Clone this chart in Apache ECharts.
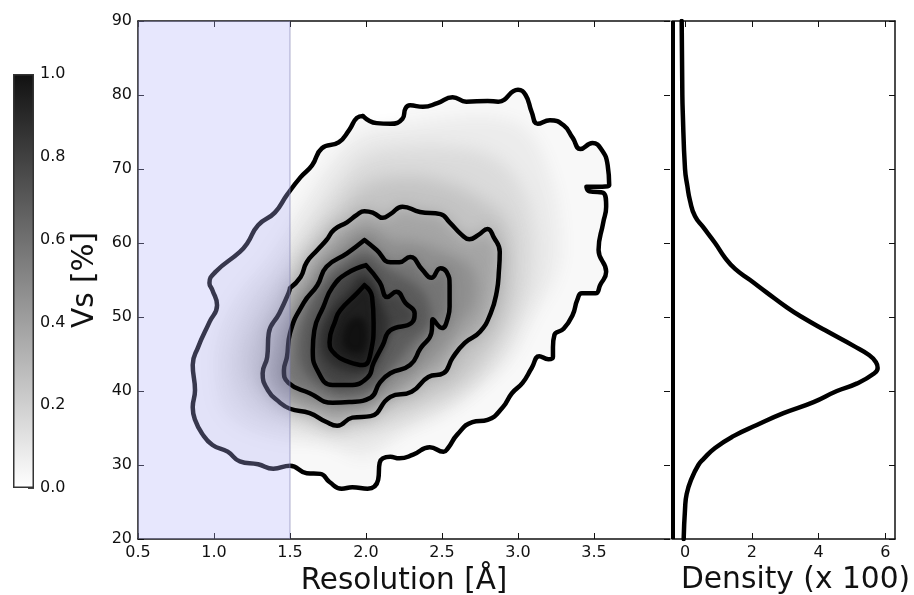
<!DOCTYPE html>
<html><head><meta charset="utf-8">
<style>html,body{margin:0;padding:0;background:#fff}#c{width:914px;height:595px}</style>
<script src="https://cdn.jsdelivr.net/npm/echarts@6/dist/echarts.min.js"></script></head>
<body><div id="c"></div>
<script>
// Resolution [Å], Vs [%] rings
const contour1 = [[1.98,77.16],[2.07,76.2],[2.16,76.1],[2.24,76.8],[2.26,78.2],[2.29,78.6],[2.375,78.4],[2.47,78.9],[2.57,79.7],[2.66,79.1],[2.80,79.2],[2.87,79.1],[3.0,80.7],[3.05,80.0],[3.09,77.7],[3.13,76.1],[3.21,76.6],[3.30,75.9],[3.36,74.2],[3.41,72.7],[3.49,73.5],[3.55,72.6],[3.59,70.5],[3.60,67.8],[3.52,67.6],[3.45,67.6],[3.47,67.0],[3.56,66.8],[3.58,64.9],[3.56,62.7],[3.53,59.05],[3.58,56.1],[3.54,54.3],[3.51,53.2],[3.42,53.2],[3.39,52.3],[3.36,50.3],[3.30,48.4],[3.24,47.6],[3.23,45.9],[3.23,44.6],[3.20,44.3],[3.14,44.7],[3.09,43.1],[3.03,41.1],[2.96,39.7],[2.90,37.8],[2.80,36.1],[2.70,35.8],[2.60,34.1],[2.54,32.3],[2.51,31.8],[2.42,32.4],[2.31,31.4],[2.22,30.9],[2.16,31.1],[2.09,30.3],[2.08,28.0],[2.01,26.8],[1.91,27.0],[1.84,26.8],[1.76,27.7],[1.70,28.8],[1.61,28.9],[1.5,29.9],[1.39,29.5],[1.29,30.1],[1.17,30.5],[1.09,31.8],[0.99,32.7],[0.92,34.3],[0.875,36.1],[0.86,37.8],[0.875,40.1],[0.86,43.5],[0.895,45.9],[0.97,49.3],[1.02,51.6],[0.99,53.6],[0.97,54.6],[1.01,56.1],[1.17,58.8],[1.22,60.0],[1.29,62.4],[1.40,64.1],[1.48,66.5],[1.57,68.9],[1.645,70.5],[1.71,72.8],[1.82,73.6],[1.89,75.3],[1.94,76.9]];
const contour2 = [[1.5,53.9],[1.57,55.4],[1.61,57.4],[1.68,59.05],[1.74,60.4],[1.79,61.8],[1.875,62.8],[1.94,63.8],[1.99,64.3],[2.05,64.05],[2.11,63.4],[2.16,63.9],[2.24,64.9],[2.355,64.2],[2.49,63.9],[2.55,62.8],[2.63,61.1],[2.68,60.5],[2.74,61.1],[2.80,61.9],[2.84,60.8],[2.88,58.8],[2.875,56.4],[2.86,53.4],[2.82,50.5],[2.75,48.0],[2.65,46.5],[2.57,44.5],[2.51,42.4],[2.41,41.9],[2.30,39.9],[2.16,39.2],[2.03,36.6],[1.91,36.4],[1.81,35.3],[1.74,35.8],[1.63,37.0],[1.5,37.6],[1.43,38.5],[1.355,40.1],[1.32,42.4],[1.35,44.6],[1.36,47.8],[1.43,50.5],[1.49,53.2]];
const contour3 = [[1.99,60.4],[2.07,59.05],[2.16,57.4],[2.22,57.4],[2.29,58.1],[2.37,56.4],[2.43,55.3],[2.49,56.6],[2.53,56.1],[2.55,54.3],[2.55,51.4],[2.54,50.0],[2.50,48.5],[2.44,49.7],[2.43,47.8],[2.36,45.8],[2.29,43.5],[2.16,42.4],[2.09,41.1],[2.03,39.1],[1.89,38.5],[1.78,38.4],[1.63,39.7],[1.49,41.1],[1.46,42.8],[1.48,44.6],[1.5,47.8],[1.59,51.9],[1.68,54.3],[1.74,56.8],[1.875,58.6]];
const contour4 = [[2.0,57.0],[2.09,54.7],[2.14,52.7],[2.20,53.4],[2.26,51.9],[2.32,50.5],[2.30,49.2],[2.16,48.2],[2.11,46.2],[2.05,43.8],[2.01,41.8],[1.89,40.8],[1.78,40.8],[1.68,42.8],[1.65,45.5],[1.66,48.2],[1.72,51.4],[1.78,54.05],[1.875,55.9]];
const contour5 = [[1.99,54.3],[2.04,52.7],[2.05,49.2],[2.03,45.1],[1.98,43.5],[1.89,43.9],[1.80,44.9],[1.76,46.6],[1.80,49.6],[1.83,50.9],[1.94,53.2]];
const shadeB = [[1.98,75],[2.25,76],[2.6,77],[2.85,77],[3.05,75.5],[3.2,70],[3.28,62],[3.26,56],[3.1,50],[2.97,45],[2.78,41],[2.52,37],[2.25,34.5],[2.0,31],[1.72,33],[1.4,33.5],[1.08,36.5],[1.0,42],[1.03,48],[1.15,53],[1.35,58],[1.6,66],[1.8,72]];
const shadeC = [[2.0,72],[2.3,73],[2.55,73],[2.8,72],[2.98,69],[3.1,63],[3.1,55],[2.98,49],[2.85,44],[2.65,40],[2.4,37],[2.1,34.5],[1.85,33.5],[1.55,35],[1.25,37],[1.12,41],[1.12,46],[1.25,52],[1.45,57],[1.65,63],[1.85,69]];
const shadeD = [[2.0,68],[2.3,69],[2.55,68],[2.75,66],[2.92,63],[2.97,57],[2.92,50],[2.78,45],[2.6,41],[2.35,38.5],[2.05,36.5],[1.8,36],[1.5,37.5],[1.3,40],[1.22,44],[1.3,49],[1.45,54],[1.65,60],[1.85,65]];
const shadeF = [[1.99,62],[2.16,60.5],[2.35,60],[2.55,58.5],[2.7,56.5],[2.72,52],[2.62,49],[2.5,45.5],[2.3,42],[2.1,39],[1.9,37.8],[1.7,38],[1.5,39.5],[1.4,42],[1.42,46],[1.5,50],[1.6,54],[1.75,58]];
const shadeH = [[2.0,58.5],[2.15,56.5],[2.35,54],[2.42,51.5],[2.42,49],[2.3,46.5],[2.2,44],[2.05,40.5],[1.88,39.5],[1.72,40.5],[1.58,43],[1.56,47],[1.62,51],[1.72,54.5],[1.85,57]];
const shadeJ = [[1.99,55.6],[2.1,52],[2.15,49],[2.1,45.5],[2.02,43],[1.88,42.5],[1.74,44],[1.70,47],[1.76,50.5],[1.88,53.5]];
const shadeCore = [[1.95,50],[2.0,49],[2.0,46],[1.95,45],[1.85,46],[1.87,49]];
// density, Vs
const marginal = [[-0.1,90],[-0.08,80],[-0.07,78],[0,70],[0.07,67.7],[0.15,65.7],[0.3,63.6],[0.55,62.1],[0.9,60],[1.2,58],[1.5,56.5],[1.95,55],[2.45,53.3],[3.05,51.3],[3.5,50],[4.2,48.2],[5.05,46.1],[5.5,44.9],[5.72,43.9],[5.77,43.1],[5.64,42.3],[5.14,41],[4.55,40],[3.85,38.5],[2.95,37],[2.15,35.4],[1.45,33.9],[0.9,32.3],[0.55,30.8],[0.4,30],[0.2,28.2],[0.05,26.1],[0,24],[-0.04,20]];
const baseLine = [[-0.36,20],[-0.36,90]];
const resTicks = [0.5,1.0,1.5,2.0,2.5,3.0,3.5];
const vsTicks = [20,30,40,50,60,70,80,90];
const densTicks = [0,2,4,6];
const barTicks = [0,0.2,0.4,0.6,0.8,1.0];
const colorbarValue = [1];
const bandRange = [[0.5,20],[1.5,90]];

const shades = [
  [shadeB,0.08,16],[shadeC,0.15,18],[shadeD,0.25,18],[contour2,0.38,16],
  [shadeF,0.47,14],[contour3,0.58,12],[shadeH,0.68,10],[contour4,0.78,10],[shadeJ,0.87,8],
  [contour5,0.94,7],[shadeCore,1.0,6]
];
const grey = v => { const g = Math.round(255 - v*238); return `rgb(${g},${g},${g})`; };
const FONT = 'DejaVu Sans', INK = '#111', OFF = 3000;

const outerFill = {
  type:'custom', xAxisIndex:0, yAxisIndex:0, z:2, silent:true, clip:false,
  data: contour1, encode:{x:0,y:1},
  renderItem(p,api){
    if(p.dataIndex!==contour1.length-1) return null;
    return {type:'polygon', shape:{points:contour1.map(q=>api.coord(q)), smooth:0.4}, style:{fill:grey(0.03)}};
  }
};
// each ring paints only its soft shadow, so neighbouring levels melt together
const shadeSeries = shades.map(([ring,v,blur],i) => ({
  type:'custom', xAxisIndex:0, yAxisIndex:0, z:2, silent:true, clip:false,
  data: ring, encode:{x:0,y:1},
  renderItem(p,api){
    if(p.dataIndex!==ring.length-1) return null;
    return {type:'polygon', shape:{points:ring.map(q=>{const c=api.coord(q);return [c[0]-OFF,c[1]];}), smooth:0.4},
      style:{fill:grey(v), shadowBlur:blur, shadowColor:grey(v), shadowOffsetX:OFF}};
  }
}));
const contourSeries = [contour1,contour2,contour3,contour4,contour5].map(r => ({
  type:'line', xAxisIndex:0, yAxisIndex:0, z:3, silent:true, symbol:'none', smooth:0.5,
  data:[...r,r[0]], lineStyle:{color:'#000',width:4.5,cap:'round',join:'round'}
}));
const plain = {show:false};
const lbl = {fontFamily:FONT,fontSize:16,color:INK};
const tick = (vals,inside=true) => ({show:true,inside,length:6,customValues:vals,lineStyle:{color:INK,width:1}});
const line = {show:true,onZero:false,lineStyle:{color:INK,width:1.5}};
const gridBase = {outerBoundsMode:'none',containLabel:false};
const opt = {
  animation:false, backgroundColor:'#fff',
  grid:[
    {...gridBase,left:138,top:21,width:532,height:518},
    {...gridBase,left:672,top:21,width:223,height:518},
    {...gridBase,left:13,top:74,width:21,height:414}
  ],
  xAxis:[
    {type:'value',gridIndex:0,min:0.5,max:4,position:'bottom',axisLine:line,axisTick:tick(resTicks),
      axisLabel:{...lbl,customValues:resTicks,margin:6,formatter:v=>v.toFixed(1)},splitLine:plain,
      name:'Resolution [Å]',nameLocation:'middle',nameGap:25,nameTextStyle:{fontFamily:FONT,fontSize:29.5,color:INK}},
    {type:'value',gridIndex:0,min:0.5,max:4,position:'top',axisLine:line,axisTick:tick(resTicks),axisLabel:plain,splitLine:plain},
    {type:'value',gridIndex:1,min:-0.39,max:6.29,position:'bottom',axisLine:line,axisTick:tick(densTicks),
      axisLabel:{...lbl,customValues:densTicks,margin:6},splitLine:plain},
    {type:'value',gridIndex:1,min:-0.39,max:6.29,position:'top',axisLine:line,axisTick:tick(densTicks),axisLabel:plain,splitLine:plain},
    {type:'category',gridIndex:2,data:[''],axisLine:plain,axisTick:plain,axisLabel:plain,splitLine:plain}
  ],
  yAxis:[
    {type:'value',gridIndex:0,min:20,max:90,position:'left',axisLine:line,axisTick:tick(vsTicks),
      axisLabel:{...lbl,customValues:vsTicks,margin:6},splitLine:plain,
      name:'Vs [%]',nameLocation:'middle',nameGap:26,nameTextStyle:{fontFamily:FONT,fontSize:29.5,color:INK}},
    {type:'value',gridIndex:0,min:20,max:90,position:'right',axisLine:plain,axisTick:tick(vsTicks),axisLabel:plain,splitLine:plain},
    {type:'value',gridIndex:1,min:20,max:90,position:'right',axisLine:line,axisTick:tick(vsTicks),axisLabel:plain,splitLine:plain},
    {type:'value',gridIndex:2,min:0,max:1,position:'right',axisLine:plain,
      axisTick:{show:true,inside:true,length:6,customValues:barTicks,lineStyle:{color:'#444',width:1}},
      axisLabel:{...lbl,customValues:barTicks,margin:6,formatter:v=>v.toFixed(1)},splitLine:plain}
  ],
  graphic:[{type:'text',left:681,top:565,silent:true,style:{text:'Density (x 100)',fontFamily:FONT,fontSize:29.7,fill:INK}}],
  series:[
    outerFill,
    ...shadeSeries,
    ...contourSeries,
    {type:'custom',xAxisIndex:0,yAxisIndex:0,z:5,silent:true,data:bandRange,encode:{x:0,y:1},
      renderItem(p,api){
        if(p.dataIndex!==1) return null;
        const a=api.coord(bandRange[0]), b=api.coord(bandRange[1]);
        return {type:'group',children:[
          {type:'rect',shape:{x:a[0],y:b[1],width:b[0]-a[0],height:a[1]-b[1]},style:{fill:'rgba(177,177,250,0.31)'}},
          {type:'line',shape:{x1:b[0],y1:b[1],x2:b[0],y2:a[1]},style:{stroke:'rgba(120,120,170,0.4)',lineWidth:1.5}}
        ]};
      }},
    {type:'line',xAxisIndex:2,yAxisIndex:2,z:3,silent:true,symbol:'none',smooth:0.5,data:marginal,
      lineStyle:{color:'#000',width:4.5,cap:'round',join:'round'}},
    {type:'line',xAxisIndex:2,yAxisIndex:2,z:3,silent:true,symbol:'none',data:baseLine,
      lineStyle:{color:'#000',width:4}},
    {type:'bar',xAxisIndex:4,yAxisIndex:3,z:3,silent:true,barWidth:'100%',data:colorbarValue,
      itemStyle:{borderColor:'#333',borderWidth:1.5,
        color:new echarts.graphic.LinearGradient(0,0,0,1,[{offset:0,color:'#111'},{offset:1,color:'#fff'}])}}
  ]
};
echarts.init(document.getElementById('c'),null,{renderer:'canvas'}).setOption(opt);
</script></body></html>
